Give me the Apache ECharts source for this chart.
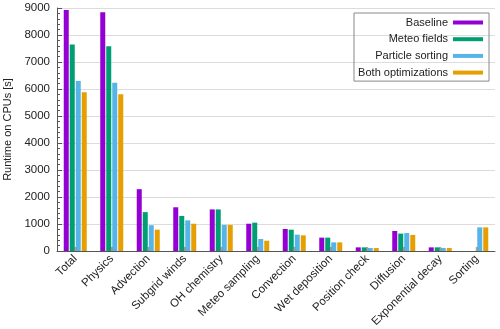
<!DOCTYPE html>
<html>
<head>
<meta charset="utf-8">
<script src="https://cdn.jsdelivr.net/npm/echarts@6/dist/echarts.min.js"></script>
<style>
  html, body { margin: 0; padding: 0; background: #fff; }
  #chart { width: 500px; height: 329px; }
</style>
</head>
<body>
<div id="chart"></div>
<script>
// 数据
const categories = ['Total', 'Physics', 'Advection', 'Subgrid winds', 'OH chemistry', 'Meteo sampling',
  'Convection', 'Wet deposition', 'Position check', 'Diffusion', 'Exponential decay', 'Sorting']
const seriesNames = ['Baseline', 'Meteo fields', 'Particle sorting', 'Both optimizations']
const baseline = [8930, 8840, 2290, 1620, 1540, 1010, 815, 495, 135, 740, 135, 0]
const meteoFields = [7650, 7580, 1440, 1300, 1540, 1050, 790, 495, 135, 645, 135, 0]
const particleSorting = [6300, 6230, 955, 1135, 965, 445, 605, 320, 110, 665, 110, 875]
const bothOptimizations = [5880, 5810, 790, 1010, 965, 380, 580, 320, 110, 595, 110, 875]
// 灰色小误差标记
const spread = [150, 150, 150, 150, 150, 150, 150, 150, 150, 150, 150, 150]
const yTicks = { min: 0, max: 9000, interval: 1000 }

const colors = ['#9400d3', '#009e73', '#56b4e9', '#e69f00']
const values = [baseline, meteoFields, particleSorting, bothOptimizations]
const font = 'Liberation Sans, Arial, sans-serif'

let myChart = echarts.init(document.getElementById('chart'))

let series = seriesNames.map((name, i) => ({
  name: name,
  type: 'bar',
  data: values[i],
  barWidth: 5,
  barGap: '20%',
  itemStyle: { color: colors[i] },
  emphasis: { disabled: true },
}))
series.push({
  name: 'spread',
  type: 'bar',
  xAxisIndex: 1,
  data: spread,
  barWidth: 2,
  z: 5,
  itemStyle: { color: 'rgba(110,110,110,0.6)' },
  emphasis: { disabled: true },
})

let options = {
  animation: false,
  grid: {
    left: 57,
    right: 5,
    top: 8,
    bottom: 78,
    containLabel: false,
    outerBoundsMode: 'none',
  },
  legend: {
    data: seriesNames,
    orient: 'vertical',
    align: 'right',
    right: 11,
    top: 13,
    padding: [3, 6, 2, 4],
    itemGap: 3.7,
    itemWidth: 30,
    itemHeight: 4,
    icon: 'rect',
    borderColor: '#888',
    borderWidth: 1,
    textStyle: {
      fontFamily: font,
      fontSize: 11,
      color: '#222',
      width: 90,
      align: 'right',
      lineHeight: 13,
    },
  },
  xAxis: [
    {
      type: 'category',
      data: categories,
      axisLine: { lineStyle: { color: '#555', width: 1 } },
      axisTick: { show: false },
      axisLabel: {
        rotate: 45,
        interval: 0,
        margin: 6,
        fontFamily: font,
        fontSize: 11.5,
        color: '#222',
      },
    },
    {
      type: 'category',
      data: categories,
      show: false,
    },
  ],
  yAxis: {
    type: 'value',
    min: yTicks.min,
    max: yTicks.max,
    interval: yTicks.interval,
    name: 'Runtime on CPUs [s]',
    nameLocation: 'middle',
    nameGap: 40,
    nameTextStyle: { fontFamily: font, fontSize: 11, color: '#222' },
    axisLine: { show: true, lineStyle: { color: '#555' } },
    axisTick: { show: true, inside: true, length: 5, lineStyle: { color: '#555' } },
    minorTick: { show: true, splitNumber: 5, length: 3, lineStyle: { color: '#555' } },
    axisLabel: {
      fontFamily: font,
      fontSize: 11.5,
      color: '#222',
      margin: 7,
      formatter: (v) => String(v),
    },
    splitLine: { lineStyle: { color: '#dcdcdc', width: 1 } },
  },
  series: series,
}

myChart.setOption(options)
</script>
</body>
</html>
